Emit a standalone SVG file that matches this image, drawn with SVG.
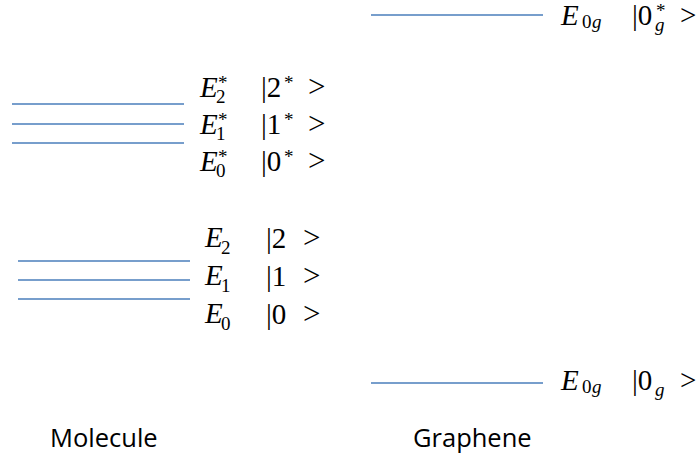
<svg xmlns="http://www.w3.org/2000/svg" width="700" height="457" viewBox="0 0 700 457">
<style>
.lvl{stroke:#4a7ebb;stroke-width:1.5}
.m{font-family:"Liberation Serif","DejaVu Serif",serif;font-size:29px;fill:#000}
.e{font-style:italic}
.s{font-size:19px;font-style:normal}
.si{font-size:19px;font-style:italic}
.g{font-size:31px}
.g2{font-size:29px}
.lab{font-family:"Open Sans","Liberation Sans",sans-serif;font-size:25.5px;fill:#000}
</style>
<g id="connectors"></g>
<g id="mol-excited">
<line class="lvl" x1="12" y1="104" x2="184" y2="104"/>
<line class="lvl" x1="12" y1="124" x2="184" y2="124"/>
<line class="lvl" x1="12" y1="143" x2="184" y2="143"/>
<text class="m"><tspan class="e" x="200" y="97">E</tspan><tspan class="s" x="216" y="103">2</tspan><tspan class="s" x="218" y="89">*</tspan></text>
<text class="m"><tspan class="e" x="200" y="134">E</tspan><tspan class="s" x="216" y="140">1</tspan><tspan class="s" x="218" y="126">*</tspan></text>
<text class="m"><tspan class="e" x="200" y="171">E</tspan><tspan class="s" x="216" y="177">0</tspan><tspan class="s" x="218" y="163">*</tspan></text>
<text class="m"><tspan x="261" y="97">|2</tspan><tspan class="s" x="284" y="89">*</tspan><tspan class="g" x="308" y="97">&gt;</tspan></text>
<text class="m"><tspan x="261" y="134">|1</tspan><tspan class="s" x="284" y="126">*</tspan><tspan class="g" x="308" y="134">&gt;</tspan></text>
<text class="m"><tspan x="261" y="171">|0</tspan><tspan class="s" x="284" y="163">*</tspan><tspan class="g" x="308" y="171">&gt;</tspan></text>
</g>
<g id="mol-ground">
<line class="lvl" x1="18" y1="261" x2="190" y2="261"/>
<line class="lvl" x1="18" y1="280" x2="190" y2="280"/>
<line class="lvl" x1="18" y1="299" x2="190" y2="299"/>
<text class="m"><tspan class="e" x="205" y="247">E</tspan><tspan class="s" x="221" y="254">2</tspan></text>
<text class="m"><tspan class="e" x="205" y="285">E</tspan><tspan class="s" x="221" y="292">1</tspan></text>
<text class="m"><tspan class="e" x="205" y="323">E</tspan><tspan class="s" x="221" y="330">0</tspan></text>
<text class="m"><tspan x="266" y="248">|2</tspan><tspan class="g" x="303" y="248">&gt;</tspan></text>
<text class="m"><tspan x="266" y="286">|1</tspan><tspan class="g" x="303" y="286">&gt;</tspan></text>
<text class="m"><tspan x="266" y="324">|0</tspan><tspan class="g" x="303" y="324">&gt;</tspan></text>
</g>
<g id="graphene-top">
<line class="lvl" x1="371" y1="15" x2="543" y2="15"/>
<text class="m"><tspan class="e" x="561" y="25">E</tspan><tspan class="s" x="582" y="28">0</tspan><tspan class="si" x="592" y="28">g</tspan></text>
<text class="m"><tspan x="632" y="25">|0</tspan><tspan class="si" x="655" y="31">g</tspan><tspan class="s" x="656" y="17">*</tspan><tspan class="g2" x="680" y="25">&gt;</tspan></text>
</g>
<g id="graphene-bottom">
<line class="lvl" x1="371" y1="383" x2="543" y2="383"/>
<text class="m"><tspan class="e" x="561" y="390">E</tspan><tspan class="s" x="582" y="393">0</tspan><tspan class="si" x="592" y="393">g</tspan></text>
<text class="m"><tspan x="632" y="390">|0</tspan><tspan class="si" x="655" y="396">g</tspan><tspan class="g2" x="680" y="390">&gt;</tspan></text>
</g>
<g id="labels">
<text class="lab" x="50" y="447">Molecule</text>
<text class="lab" x="413" y="447">Graphene</text>
</g>
</svg>
